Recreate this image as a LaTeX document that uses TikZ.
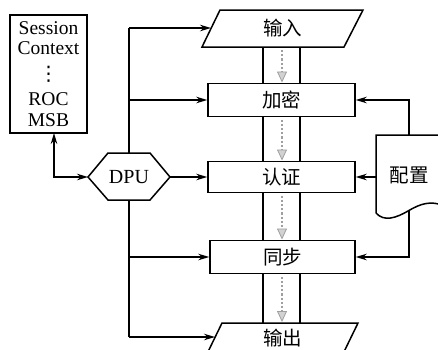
\documentclass[tikz,border=0pt]{standalone}
\usepackage{fontspec}
\setmainfont{Liberation Serif}
\newfontfamily\cjk{Noto Sans CJK SC}
\newfontfamily\dejavu{DejaVu Sans}
\usetikzlibrary{arrows.meta}
\begin{document}
\begin{tikzpicture}[x=1pt,y=-1pt,
  lw/.style={line width=1.5pt},
  box/.style={draw, lw, fill=white, inner sep=0pt, font=\cjk\fontsize{19.5}{21}\selectfont},
  lbl/.style={inner sep=0pt, font=\cjk\fontsize{19.5}{21}\selectfont},
  arr/.style={lw, -{Stealth[length=11pt,width=6.5pt]}},
  flow/.style={draw=gray!75, line width=2.2pt, dotted, -{Triangle[length=11pt,width=10pt,fill=gray!35,color=gray!75,line width=0.8pt]}},
  chan/.style={lw}]
\useasboundingbox (0,0) rectangle (438,349);
\clip (0,0) rectangle (438,349);
% session context box
\node[draw, lw, minimum width=77pt, minimum height=118pt, inner sep=0pt, align=center,
  font=\fontsize{19.5}{20.5}\selectfont] (ctx) at (48.5,74)
  {Session\\Context\\[5pt]{\dejavu\fontsize{20}{20}\selectfont ⋮}\\[5pt]ROC\\MSB};
\coordinate (ctxB) at (54,133);
% input parallelogram
\node[lbl] (in) at (282.5,28.5) {输入};
\draw[lw] (220,10) -- (363,10) -- (344,47) -- (202,47) -- cycle;
\coordinate (inL) at (211,28);
% boxes
\node[box, minimum width=147pt, minimum height=33pt] (enc) at (281.5,100) {加密};
\node[box, minimum width=147pt, minimum height=31pt] (auth) at (281.5,177) {认证};
\node[box, minimum width=145pt, minimum height=33pt] (sync) at (282.5,257) {同步};
% output parallelogram
\node[lbl] (out) at (282.5,338.5) {输出};
\draw[lw] (222,323) -- (358,323) -- (340,360) -- (204,360) -- cycle;
\coordinate (outL) at (215,337);
% channels
\foreach \ya/\yb in {47/83.5, 116.5/161.5, 192.5/240.5, 273.5/323}{
  \draw[chan] (263,\ya) -- (263,\yb);
  \draw[chan] (300,\ya) -- (300,\yb);
  \draw[flow] (282,\ya+3) -- (282,\yb-1);
}
% bus
\coordinate (bt) at (129,28);
\coordinate (bb) at (129,337);
\draw[lw] (bt) -- (bb);
% DPU
\draw[lw, fill=white] (88,177) -- (108,153) -- (150,153) -- (170,177) -- (150,200) -- (108,200) -- cycle;
\node[inner sep=0pt, font=\fontsize{20}{21}\selectfont] (dpu) at (129,177) {DPU};
\coordinate (dpuL) at (88,177);
\coordinate (dpuR) at (170,177);
\draw[arr] (bt) -- (inL);
\draw[arr] (bt |- enc.west) -- (enc.west);
\draw[arr] (dpuR) -- (auth.west);
\draw[arr] (bt |- sync.west) -- (sync.west);
\draw[arr] (bb) -- (outL);
\draw[lw, {Stealth[length=11pt,width=6.5pt]}-{Stealth[length=11pt,width=6.5pt]}] (ctxB) |- (dpuL);
% config document
\draw[lw, fill=white] (376,213) -- (376,135) -- (445,135) -- (445,206)
  .. controls (430,200) and (420,204) .. (408,211)
  .. controls (396,218) and (384,222) .. (376,213);
\node[lbl] (cfg) at (409,175) {配置};
\coordinate (cfgT) at (409,135);
\coordinate (cfgB) at (409,211);
\coordinate (cfgL) at (376,177);
\draw[arr] (cfgT) |- (enc.east);
\draw[arr] (cfgL) -- (auth.east);
\draw[arr] (cfgB) |- (sync.east);
\end{tikzpicture}
\end{document}
